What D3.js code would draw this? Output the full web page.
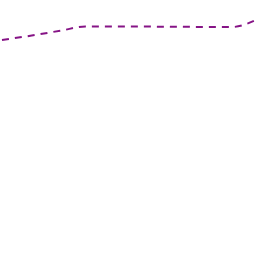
<!DOCTYPE html>
<meta charset="utf-8">
<style>
  body { margin: 0; background: #fff; }
  svg { display: block; }
</style>
<body>
<div class="chart"></div>
<script src="https://d3js.org/d3.v7.min.js"></script>
<script>
  // sampled positions along x and the series values
  const xValues = [0, 30, 60, 84, 130, 180, 232, 256];
  const yValues = [216, 220.5, 225.5, 229.5, 229.5, 229.2, 229, 236];

  const width = 256;
  const height = 256;

  const x = d3.scaleLinear().domain([0, 256]).range([2, 256]);
  const y = d3.scaleLinear().domain([0, 256]).range([256, 0]);

  const svg = d3.select(".chart").append("svg")
    .attr("width", width)
    .attr("height", height);

  const line = d3.line()
    .x((d, i) => x(xValues[i]))
    .y(d => y(d))
    .curve(d3.curveMonotoneX);

  svg.append("path")
    .datum(yValues)
    .attr("fill", "none")
    .attr("stroke", "#861486")
    .attr("stroke-width", 2)
    .attr("stroke-dasharray", "7,6")
    .attr("d", line);
</script>
